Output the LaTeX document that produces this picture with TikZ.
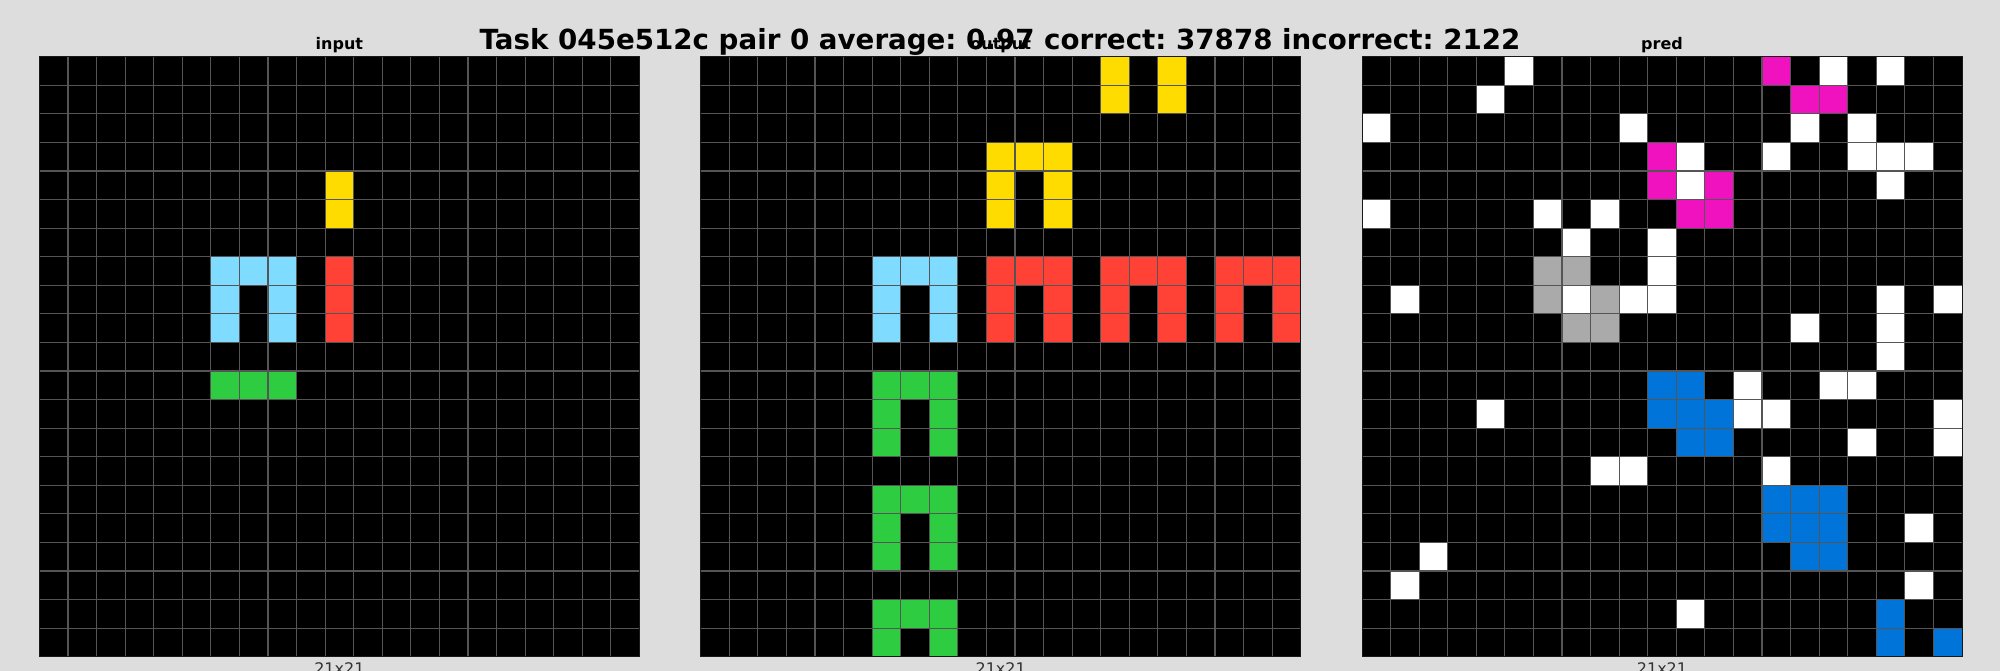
\documentclass[tikz,border=0pt]{standalone}
\usepackage{fontspec}
\setmainfont{DejaVu Sans}
\frenchspacing
\definecolor{bg}{HTML}{DDDDDD}
\definecolor{gline}{HTML}{555555}
\definecolor{cY}{HTML}{FFDC00}
\definecolor{cR}{HTML}{FF4136}
\definecolor{cG}{HTML}{2ECC40}
\definecolor{cL}{HTML}{7FDBFF}
\definecolor{cB}{HTML}{0074D9}
\definecolor{cM}{HTML}{F012BE}
\definecolor{cA}{HTML}{AAAAAA}
\definecolor{cW}{HTML}{FFFFFF}
\definecolor{lbl}{HTML}{333333}
\newcommand\cs{28.5714}
\newcommand\gtop{56.7}
\newcommand\paintcells[3]{%
  \foreach \c/\r in {#3} {\fill[#2] ({#1+\c*\cs},{\gtop+\r*\cs}) rectangle ++(\cs,\cs);}}
\newcommand\gridlines[1]{%
  \foreach \i in {1,...,20} {%
    \draw[gridln] ({#1+\i*\cs},\gtop) -- ++(0,600);
    \draw[gridln] (#1,{\gtop+\i*\cs}) -- ++(600,0);}
  \draw[border] (#1,\gtop) rectangle ++(600,600);}
\tikzset{
  gridln/.style={draw=gline, line width=1.1pt},
  border/.style={draw=black!90, line width=1pt},
  subttl/.style={font=\bfseries\fontsize{16}{19}\selectfont, anchor=base, inner sep=0pt},
  sizelbl/.style={font=\fontsize{16}{19}\selectfont, text=lbl, anchor=base, inner sep=0pt},
  mainttl/.style={font=\bfseries\fontsize{27.7}{33}\selectfont, anchor=base, inner sep=0pt}
}
\begin{document}
\begin{tikzpicture}[x=1pt,y=-1pt]
\fill[bg] (0,0) rectangle (2000,671);
\useasboundingbox (0,0) rectangle (2000,671);
% ---------- input grid ----------
\fill[black] (39.4,\gtop) rectangle ++(600,600);
\paintcells{39.4}{cY}{10/4,10/5}
\paintcells{39.4}{cL}{6/7,7/7,8/7,6/8,8/8,6/9,8/9}
\paintcells{39.4}{cR}{10/7,10/8,10/9}
\paintcells{39.4}{cG}{6/11,7/11,8/11}
\gridlines{39.4}
% ---------- output grid ----------
\fill[black] (700.7,\gtop) rectangle ++(600,600);
\paintcells{700.7}{cY}{14/0,16/0,14/1,16/1,10/3,11/3,12/3,10/4,12/4,10/5,12/5}
\paintcells{700.7}{cL}{6/7,7/7,8/7,6/8,8/8,6/9,8/9}
\paintcells{700.7}{cR}{10/7,11/7,12/7,10/8,12/8,10/9,12/9,14/7,15/7,16/7,14/8,16/8,14/9,16/9,18/7,19/7,20/7,18/8,20/8,18/9,20/9}
\paintcells{700.7}{cG}{6/11,7/11,8/11,6/12,8/12,6/13,8/13,6/15,7/15,8/15,6/16,8/16,6/17,8/17,6/19,7/19,8/19,6/20,8/20}
\gridlines{700.7}
% ---------- pred grid ----------
\fill[black] (1362,\gtop) rectangle ++(600,600);
\paintcells{1362}{cW}{5/0,16/0,18/0,4/1,0/2,9/2,15/2,17/2,11/3,14/3,17/3,18/3,19/3,11/4,18/4,0/5,6/5,8/5,7/6,10/6,10/7,1/8,7/8,9/8,10/8,18/8,20/8,15/9,18/9,18/10,13/11,16/11,17/11,4/12,13/12,14/12,20/12,17/13,20/13,8/14,9/14,14/14,19/16,2/17,1/18,19/18,11/19}
\paintcells{1362}{cM}{14/0,15/1,16/1,10/3,10/4,12/4,11/5,12/5}
\paintcells{1362}{cA}{6/7,7/7,6/8,8/8,7/9,8/9}
\paintcells{1362}{cB}{10/11,11/11,10/12,11/12,12/12,11/13,12/13,14/15,15/15,16/15,14/16,15/16,16/16,15/17,16/17,18/19,18/20,20/20}
\gridlines{1362}
% ---------- labels ----------
\node[subttl] (tin) at (339.4,49.5) {input};
\node[subttl] (tout) at (1000.7,49.5) {output};
\node[subttl] (tpred) at (1662,49.5) {pred};
\node[sizelbl] (sin) at (339.4,674.5) {21x21};
\node[sizelbl] (sout) at (1000.7,674.5) {21x21};
\node[sizelbl] (spred) at (1662,674.5) {21x21};
\node[mainttl] (title) at (1000,49.5) {Task 045e512c pair 0 average: 0.97 correct: 37878 incorrect: 2122};
\end{tikzpicture}
\end{document}
